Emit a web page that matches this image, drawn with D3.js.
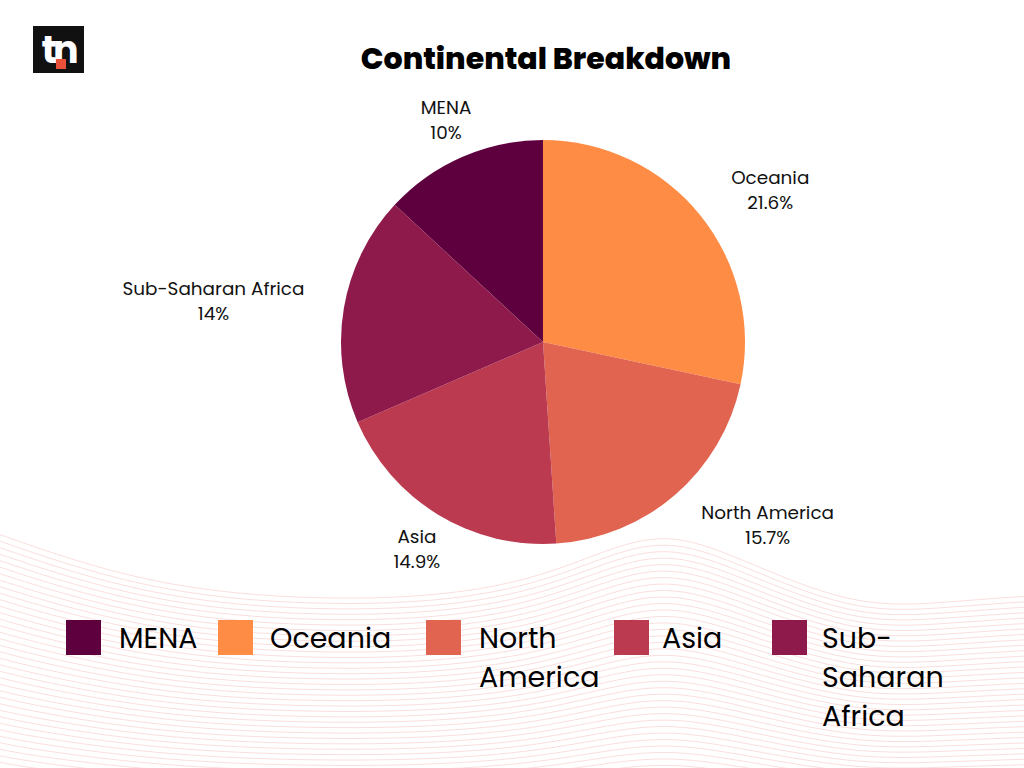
<!DOCTYPE html>
<meta charset="utf-8">
<style>
body { margin: 0; background: #fff; }
svg text { font-family: "Poppins", "DejaVu Sans", sans-serif; }
.waves path { fill: none; stroke: #f8d3d3; stroke-width: 1; stroke-opacity: 0.75; }
</style>
<svg width="1024" height="768"></svg>
<script src="https://cdn.jsdelivr.net/npm/d3@7"></script>
<script>

// chart data
var categories = ["MENA", "Oceania", "North America", "Asia", "Sub-Saharan Africa"];
var values = [10, 21.6, 15.7, 14.9, 14];
var sliceColours = ["#5f003e", "#ff8c45", "#e0644f", "#bc3a50", "#8e1a4b"];
var title = "Continental Breakdown";

// background wave outline (decoration only)
var waveTop = [[0, 537], [110, 575], [230, 598], [400, 603], [530, 585], [620, 545], [680, 535], [760, 570], [860, 610], [950, 604], [1024, 598]];

// legend layout
var legendX = [66, 218, 426, 614, 772];
var legendTextX = [53, 52, 53, 48, 50];

var svg = d3.select("svg"),
    width = +svg.attr("width"),
    height = +svg.attr("height");

var cx = 543, cy = 342, radius = 202, labelRadius = 242;

//background waves
var waves = svg.append("g").attr("class", "waves");
var waveLine = d3.line().curve(d3.curveBasis);
var baseY = 600;
for (var i = 0; i < 42; i++) {
  var amp = 1 - i / 55;
  var pts = waveTop.map(function(p) {
    return [p[0], baseY + (p[1] - baseY) * amp + i * 5.4 - 2];
  });
  pts.unshift([-20, pts[0][1] - 8]);
  pts.push([1044, pts[pts.length - 1][1]]);
  waves.append("path").attr("d", waveLine(pts));
}

//logo
var logo = svg.append("g").attr("class", "logo");
logo.append("rect")
  .attr("x", 33).attr("y", 26).attr("width", 51).attr("height", 47)
  .attr("fill", "#111");
logo.append("text")
  .attr("x", 58).attr("y", 63)
  .attr("text-anchor", "middle")
  .attr("fill", "#fff")
  .style("font-size", "38px")
  .style("font-weight", "bold")
  .style("letter-spacing", "-4px")
  .text("tn");
logo.append("rect")
  .attr("x", 56).attr("y", 59).attr("width", 10).attr("height", 10)
  .attr("fill", "#e8503a");

//title
svg.append("text")
  .attr("x", 546).attr("y", 69)
  .attr("text-anchor", "middle")
  .style("font-size", "30px")
  .style("font-weight", "800")
  .attr("fill", "#000")
  .text(title);

//pie
var data = categories.map(function(c, i) {
  return { name: c, value: values[i], colour: sliceColours[i] };
});
var total = d3.sum(values);
var start = -2 * Math.PI * values[0] / total;

var pie = d3.pie()
  .sort(null)
  .value(function(d) { return d.value; })
  .startAngle(start)
  .endAngle(start + 2 * Math.PI);

var arc = d3.arc().innerRadius(0).outerRadius(radius);

var arcs = pie(data);

var g = svg.append("g").attr("transform", "translate(" + cx + "," + cy + ")");

g.selectAll("path")
  .data(arcs)
  .enter().append("path")
    .attr("d", arc)
    .attr("fill", function(d) { return d.data.colour; });

//slice labels: two centred lines, block pushed to the side it sits on
var labels = g.selectAll("text.lbl")
  .data(arcs)
  .enter().append("text")
    .attr("class", "lbl")
    .style("font-size", "18.4px")
    .attr("fill", "#111")
    .attr("text-anchor", "middle");

labels.append("tspan")
  .attr("x", 0).attr("y", -6)
  .text(function(d) { return d.data.name; });
labels.append("tspan")
  .attr("x", 0).attr("y", 19)
  .text(function(d) { return d.data.value + "%"; });

labels.attr("transform", function(d) {
  var a = (d.startAngle + d.endAngle) / 2;
  var s = Math.sin(a);
  var w = 0;
  d3.select(this).selectAll("tspan").each(function() {
    w = Math.max(w, this.getComputedTextLength());
  });
  var shift = s > 0.6 ? w / 2 : (s < -0.6 ? -w / 2 : 0);
  return "translate(" + (labelRadius * s + shift) + "," + (-labelRadius * Math.cos(a)) + ")";
});

//legend
function wrapWords(name) {
  if (name === "North America") return ["North", "America"];
  if (name === "Sub-Saharan Africa") return ["Sub-", "Saharan", "Africa"];
  return [name];
}

var legend = svg.append("g").attr("class", "legend")
  .selectAll("g")
  .data(data)
  .enter().append("g")
    .attr("transform", function(d, i) { return "translate(" + legendX[i] + ",620)"; });

legend.append("rect")
  .attr("width", 35).attr("height", 35)
  .attr("fill", function(d) { return d.colour; });

legend.append("text")
  .style("font-size", "28.5px")
  .attr("fill", "#000")
  .each(function(d, i) {
    var t = d3.select(this);
    wrapWords(d.name).forEach(function(w, j) {
      t.append("tspan").attr("x", legendTextX[i]).attr("y", 28 + j * 39).text(w);
    });
  });

</script>
